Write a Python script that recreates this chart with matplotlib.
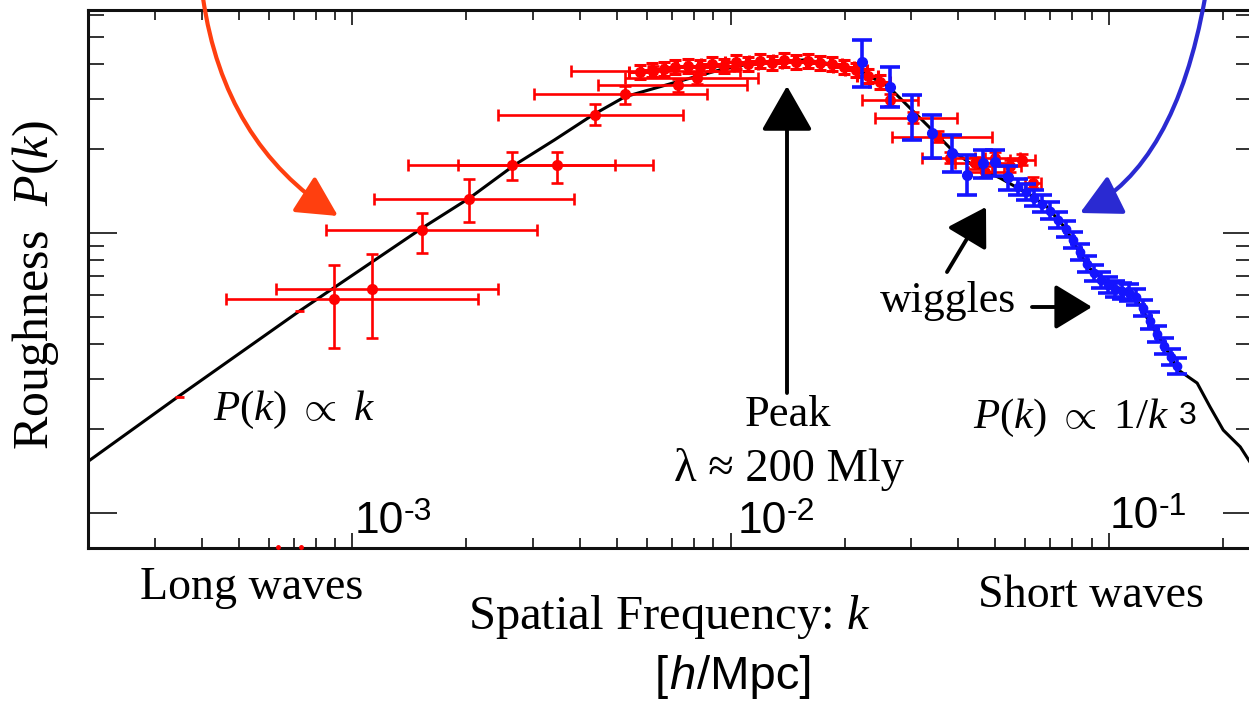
import numpy as np
import matplotlib
matplotlib.use('Agg')
import matplotlib.pyplot as plt
from matplotlib.ticker import FixedLocator, NullFormatter
from matplotlib.patches import FancyArrowPatch
from matplotlib.path import Path

plt.rcParams['font.family'] = ['Liberation Serif', 'DejaVu Serif']
plt.rcParams['mathtext.fontset'] = 'custom'
plt.rcParams['mathtext.rm'] = 'Liberation Serif'
plt.rcParams['mathtext.it'] = 'Liberation Serif:italic'

W, H = 1249, 703

# model curve (log10 k [h/Mpc], log10 P)
curve_logk = [-3.701, -3.458, -3.140, -2.815, -2.690, -2.571, -2.466, -2.365, -2.280,
              -2.143, -2.029, -1.950, -1.870, -1.804, -1.738, -1.653, -1.582, -1.521,
              -1.468, -1.415, -1.362, -1.288, -1.209, -1.164, -1.116, -1.056, -0.997,
              -0.937, -0.892, -0.847, -0.817, -0.767, -0.733, -0.698, -0.653, -0.614]
curve_logP = [3.182, 3.418, 3.721, 4.018, 4.125, 4.243, 4.332, 4.421, 4.486,
              4.539, 4.582, 4.604, 4.611, 4.618, 4.604, 4.575, 4.521, 4.439,
              4.368, 4.296, 4.243, 4.196, 4.136, 4.093, 4.018, 3.879, 3.814,
              3.786, 3.679, 3.582, 3.511, 3.464, 3.379, 3.296, 3.236, 3.154]

# red points with big error bars
red_logk = [-3.048, -2.947, -2.815, -2.693, -2.577, -2.460, -2.360, -2.280, -2.140, -2.090, -2.206,
            -1.579, -1.519, -1.452, -1.421, -1.354, -1.302, -1.262, -1.328, -1.230, -1.201]
red_logk_lo = [-3.333, -3.201, -3.071, -2.942, -2.854, -2.722, -2.616, -2.519, -2.352, -2.280, -2.421,
               -1.653, -1.619, -1.574, -1.495, -1.407, -1.354, -1.310, -1.373, -1.262, -1.222]
red_logk_hi = [-2.667, -2.616, -2.513, -2.415, -2.307, -2.206, -2.127, -2.063, -1.958, -1.929, -1.976,
               -1.505, -1.402, -1.310, -1.328, -1.267, -1.235, -1.233, -1.278, -1.196, -1.180]
red_logP = [3.764, 3.800, 4.011, 4.121, 4.243, 4.243, 4.421, 4.496, 4.529, 4.554, 4.579,
            4.475, 4.411, 4.343, 4.268, 4.250, 4.268, 4.239, 4.218, 4.261, 4.179]
red_logP_lo = [3.589, 3.625, 3.929, 4.039, 4.189, 4.179, 4.386, 4.461, 4.504, 4.532, 4.557,
               4.455, 4.391, 4.323, 4.248, 4.230, 4.248, 4.219, 4.198, 4.241, 4.159]
red_logP_hi = [3.886, 3.925, 4.071, 4.193, 4.289, 4.289, 4.461, 4.525, 4.550, 4.575, 4.596,
               4.495, 4.431, 4.363, 4.288, 4.270, 4.288, 4.259, 4.238, 4.281, 4.199]

# dense red points around the peak
cluster_logk = [-2.241, -2.209, -2.177, -2.146, -2.114, -2.082, -2.050, -2.019, -1.987, -1.955, -1.923,
                -1.892, -1.860, -1.828, -1.796, -1.765, -1.733, -1.701, -1.669, -1.638, -1.606]
cluster_logP = [4.575, 4.582, 4.586, 4.593, 4.596, 4.593, 4.604, 4.596, 4.611, 4.604, 4.614,
                4.607, 4.618, 4.611, 4.614, 4.607, 4.604, 4.593, 4.582, 4.561, 4.539]
cluster_dk = 0.028
cluster_dP = 0.025

# stray red marks
stray_logk = [-3.458, -3.140]
stray_logP = [3.414, 3.721]
edge_logk = [-3.198, -3.135]
edge_logP = [2.879, 2.879]

# blue points
blue_logk = [-1.653, -1.579, -1.521, -1.468, -1.415, -1.376, -1.333, -1.302, -1.267]
blue_logP = [4.611, 4.521, 4.414, 4.357, 4.286, 4.207, 4.250, 4.254, 4.200]
blue_logP_lo = [4.521, 4.450, 4.332, 4.268, 4.218, 4.136, 4.196, 4.204, 4.154]
blue_logP_hi = [4.689, 4.593, 4.493, 4.421, 4.350, 4.279, 4.296, 4.296, 4.239]

band_logk = [-1.241, -1.220, -1.198, -1.177, -1.156, -1.135, -1.114, -1.095, -1.077, -1.058, -1.040,
             -1.021, -1.003, -0.984, -0.966, -0.947, -0.929, -0.910, -0.892, -0.873, -0.854, -0.836, -0.820]
band_logP = [4.164, 4.146, 4.125, 4.104, 4.079, 4.046, 4.014, 3.975, 3.932, 3.889, 3.857,
             3.832, 3.814, 3.800, 3.793, 3.786, 3.771, 3.732, 3.686, 3.639, 3.596, 3.557, 3.525]
band_dP = 0.03


def p(v):
    return 10 ** np.asarray(v, dtype=float)


def fxy(x, y):
    return (x / W, 1 - y / H)


fig = plt.figure(figsize=(W / 100, H / 100), dpi=100)
ax = fig.add_axes([88 / W, 1 - 548 / H, (1252 - 88) / W, (548 - 10) / H])
ax.set_xscale('log')
ax.set_yscale('log')
ax.set_xlim(10 ** -3.699, 10 ** -0.622)
ax.set_ylim(10 ** 2.875, 10 ** 4.796)

ax.plot(p(curve_logk), p(curve_logP), color='black', lw=2.2, zorder=2)

k = p(red_logk)
P = p(red_logP)
ax.errorbar(k, P, xerr=[k - p(red_logk_lo), p(red_logk_hi) - k],
            yerr=[P - p(red_logP_lo), p(red_logP_hi) - P],
            fmt='o', color='#ff0000', ms=7, lw=1.9, capsize=4.5, capthick=1.9, zorder=3)

k = p(cluster_logk)
P = p(cluster_logP)
ax.errorbar(k, P, xerr=[k - k * 10 ** -cluster_dk, k * 10 ** cluster_dk - k],
            yerr=[P - P * 10 ** -cluster_dP, P * 10 ** cluster_dP - P],
            fmt='o', color='#ff0000', ms=7, lw=2.2, capsize=4.5, capthick=2.2, zorder=3)

k = p(stray_logk)
ax.errorbar(k, p(stray_logP), xerr=[k - k * 10 ** -0.012, k * 10 ** 0.012 - k],
            fmt='none', ecolor='#ff0000', lw=2, zorder=3)
ax.plot(p(edge_logk), p(edge_logP), ls='none', marker='o', ms=2.5, color='#ff0000',
        zorder=3, clip_on=False)

P = p(blue_logP)
ax.errorbar(p(blue_logk), P, yerr=[P - p(blue_logP_lo), p(blue_logP_hi) - P],
            fmt='o', color='#1414ff', ms=7, lw=2.6, capsize=7, capthick=2.6, zorder=4)

P = p(band_logP)
ax.errorbar(p(band_logk), P, yerr=[P - P * 10 ** -band_dP, P * 10 ** band_dP - P],
            fmt='o', color='#1414ff', ms=6, lw=2.6, capsize=7, capthick=2.6, zorder=4)

# ticks
ax.xaxis.set_major_locator(FixedLocator([1e-3, 1e-2, 1e-1]))
ax.xaxis.set_minor_locator(FixedLocator([m * 10.0 ** e for e in (-4, -3, -2, -1)
                                         for m in range(2, 10)]))
ax.yaxis.set_major_locator(FixedLocator([1e3, 1e4]))
ax.yaxis.set_minor_locator(FixedLocator([m * 1e3 for m in range(2, 10)] +
                                        [m * 1e4 for m in range(2, 7)]))
for a in (ax.xaxis, ax.yaxis):
    a.set_major_formatter(NullFormatter())
    a.set_minor_formatter(NullFormatter())
ax.tick_params(axis='x', which='major', direction='in', length=11, width=1.3, top=True, color='#222222')
ax.tick_params(axis='x', which='minor', direction='in', length=7, width=1.3, top=True, color='#222222')
ax.tick_params(axis='y', which='major', direction='in', length=21, width=1.3, right=True, color='#222222')
ax.tick_params(axis='y', which='minor', direction='in', length=11.5, width=1.3, right=True, color='#222222')
for s in ax.spines.values():
    s.set_linewidth(2.2)
    s.set_color('#111111')

# axis decade labels drawn inside
for x0, base, lab in [(355, 533, '-3'), (738, 533, '-2'), (1110, 528, '-1')]:
    fig.text(*fxy(x0, base), '10', fontsize=32, family=['Liberation Sans'], va='baseline', ha='left')
    fig.text(*fxy(x0 + 49, base - 13), lab, fontsize=23, family=['Liberation Sans'],
             va='baseline', ha='left')

# texts
fig.text(*fxy(36, 285), r'Roughness  $P(k)$', rotation=90, ha='center', va='center', fontsize=36)
fig.text(*fxy(213, 420), r'$P(k)\ \propto\ k$', ha='left', va='baseline', fontsize=31)
fig.text(*fxy(788, 426), 'Peak', ha='center', va='baseline', fontsize=32)
fig.text(*fxy(789, 481), 'λ ≈ 200 Mly', ha='center', va='baseline', fontsize=33.5)
fig.text(*fxy(973, 428), r'$P(k)\ \propto\ 1/k$', ha='left', va='baseline', fontsize=31)
fig.text(*fxy(1179, 424), '3', ha='left', va='baseline', fontsize=23, family=['Liberation Sans'],
         bbox=dict(facecolor='white', edgecolor='none', pad=2))
fig.text(*fxy(880, 312), 'wiggles', ha='left', va='baseline', fontsize=31.5)
fig.text(*fxy(252, 599), 'Long waves', ha='center', va='baseline', fontsize=33)
fig.text(*fxy(1091, 607), 'Short waves', ha='center', va='baseline', fontsize=33)
fig.text(*fxy(669, 629), r'Spatial Frequency: $k$', ha='center', va='baseline', fontsize=35)
fig.text(*fxy(655, 689), '[', ha='left', va='baseline', fontsize=34, family=['Liberation Sans'])
fig.text(*fxy(669, 689), 'h', ha='left', va='baseline', fontsize=34, family=['Liberation Sans'],
         style='italic')
fig.text(*fxy(697, 689), '/Mpc]', ha='left', va='baseline', fontsize=34, family=['Liberation Sans'])


# arrows
def curved(p0, c, p1, color, lw):
    verts = [fxy(*p0), fxy(*c), fxy(*p1)]
    path = Path(verts, [Path.MOVETO, Path.CURVE3, Path.CURVE3])
    arr = FancyArrowPatch(path=path, transform=fig.transFigure,
                          arrowstyle='-|>,head_length=25,head_width=13',
                          color=color, lw=lw, mutation_scale=1)
    fig.patches.append(arr)


def straight(p0, p1, lw, hl, hw):
    arr = FancyArrowPatch(fxy(*p0), fxy(*p1), transform=fig.transFigure,
                          arrowstyle='-|>,head_length=%g,head_width=%g' % (hl, hw),
                          color='black', lw=lw, mutation_scale=1, shrinkA=0, shrinkB=0)
    fig.patches.append(arr)


curved((203, -2), (224, 143), (338, 216), '#ff3f0f', 3)
curved((1205, -2), (1175, 166), (1080, 213), '#2a2ad2', 3)
straight((787, 393), (787, 86), 2.8, 28, 16)
straight((947, 272), (986, 207), 2.8, 23, 14)
straight((1032, 307), (1092, 307), 2.8, 23, 14)

fig.savefig('out.png', dpi=100)
